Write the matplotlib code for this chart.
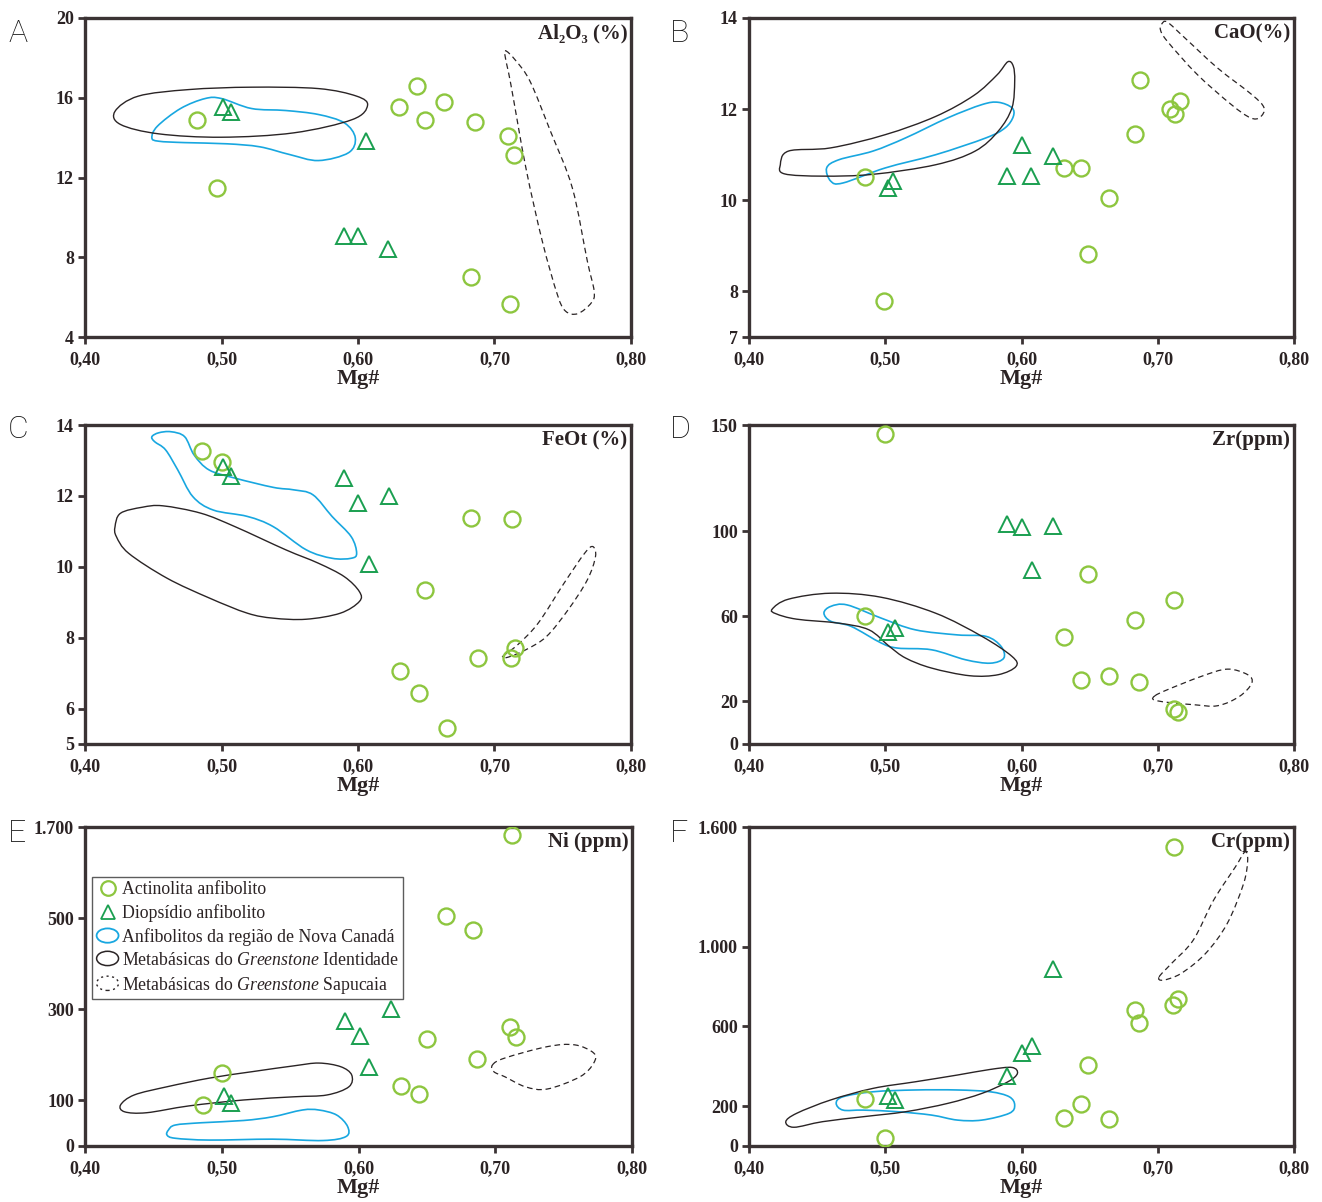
import numpy as np
import matplotlib
matplotlib.use('Agg')
import matplotlib.pyplot as plt
from matplotlib.path import Path
from matplotlib.patches import PathPatch, Patch, Ellipse
from matplotlib.lines import Line2D
from matplotlib.legend_handler import HandlerPatch

plt.rcParams['font.family'] = ['Liberation Serif', 'DejaVu Serif']
plt.rcParams['mathtext.fontset'] = 'custom'
plt.rcParams['mathtext.rm'] = 'Liberation Serif'
plt.rcParams['mathtext.it'] = 'Liberation Serif:italic'
plt.rcParams['mathtext.bf'] = 'Liberation Serif:bold'

# A - Al2O3 (%)
a_act_mg = [0.482, 0.497, 0.630, 0.643, 0.649, 0.663, 0.683, 0.686, 0.710, 0.711, 0.714]
a_act = [14.87, 11.48, 15.56, 16.59, 14.86, 15.79, 7.03, 14.76, 14.07, 5.67, 13.14]
a_dio_mg = [0.501, 0.507, 0.606, 0.590, 0.600, 0.622]
a_dio = [15.52, 15.27, 13.85, 9.06, 9.06, 8.39]
a_nova = [(0.449, 13.99), (0.453, 14.57), (0.470, 15.46), (0.488, 15.96), (0.500, 15.96), (0.522, 15.46),
          (0.547, 15.36), (0.571, 15.16), (0.590, 14.74), (0.598, 13.99), (0.593, 13.24), (0.571, 12.85),
          (0.550, 13.15), (0.528, 13.54), (0.504, 13.69), (0.473, 13.75), (0.454, 13.82)]
a_ident = [(0.422, 15.32), (0.439, 16.08), (0.476, 16.41), (0.522, 16.53), (0.571, 16.46), (0.599, 16.08),
           (0.607, 15.62), (0.596, 14.91), (0.553, 14.24), (0.500, 14.02), (0.454, 14.19), (0.426, 14.66)]
a_sapu = [(0.708, 18.36), (0.715, 17.91), (0.726, 16.83), (0.741, 14.32), (0.757, 11.48), (0.768, 7.81),
          (0.773, 6.30), (0.771, 5.72), (0.761, 5.17), (0.752, 5.30), (0.746, 6.14), (0.735, 8.81),
          (0.723, 12.48), (0.712, 16.66), (0.708, 18.00)]

# B - CaO (%)
b_act_mg = [0.485, 0.499, 0.631, 0.644, 0.649, 0.664, 0.683, 0.687, 0.709, 0.713, 0.716]
b_act = [10.51, 7.80, 10.71, 10.70, 8.83, 10.04, 11.46, 12.65, 12.00, 11.90, 12.17]
b_dio_mg = [0.600, 0.623, 0.589, 0.607, 0.506, 0.502]
b_dio = [11.22, 10.98, 10.53, 10.53, 10.43, 10.27]
b_nova = [(0.457, 10.71), (0.466, 10.89), (0.491, 11.08), (0.515, 11.37), (0.546, 11.81), (0.571, 12.10),
          (0.583, 12.15), (0.593, 12.03), (0.594, 11.84), (0.588, 11.59), (0.574, 11.37), (0.537, 11.00),
          (0.500, 10.71), (0.469, 10.38), (0.460, 10.42)]
b_ident = [(0.423, 10.78), (0.429, 11.08), (0.460, 11.15), (0.500, 11.44), (0.537, 11.84), (0.565, 12.30),
           (0.582, 12.75), (0.590, 13.04), (0.594, 12.94), (0.595, 12.61), (0.593, 12.03), (0.583, 11.52),
           (0.566, 11.08), (0.537, 10.78), (0.491, 10.57), (0.454, 10.53), (0.426, 10.58)]
b_sapu = [(0.703, 13.87), (0.707, 13.91), (0.720, 13.56), (0.744, 12.90), (0.769, 12.32), (0.778, 12.03),
          (0.775, 11.82), (0.768, 11.81), (0.754, 12.10), (0.729, 12.76), (0.707, 13.49), (0.702, 13.74)]

# C - FeOt (%)
c_act_mg = [0.486, 0.500, 0.631, 0.645, 0.649, 0.665, 0.683, 0.688, 0.712, 0.713, 0.715]
c_act = [13.28, 12.97, 7.05, 6.44, 9.35, 5.45, 11.37, 7.42, 7.42, 11.35, 7.71]
c_dio_mg = [0.501, 0.507, 0.590, 0.600, 0.623, 0.608]
c_dio = [12.81, 12.57, 12.50, 11.81, 12.00, 10.08]
c_nova = [(0.449, 13.67), (0.454, 13.78), (0.463, 13.81), (0.473, 13.67), (0.480, 13.15), (0.491, 12.73),
          (0.510, 12.50), (0.538, 12.24), (0.553, 12.17), (0.567, 12.03), (0.581, 11.42), (0.595, 10.85),
          (0.599, 10.38), (0.595, 10.24), (0.581, 10.24), (0.562, 10.48), (0.538, 11.13), (0.519, 11.42),
          (0.494, 11.60), (0.479, 11.98), (0.468, 12.73), (0.459, 13.30), (0.451, 13.53)]
c_ident = [(0.422, 11.13), (0.426, 11.51), (0.442, 11.68), (0.457, 11.72), (0.485, 11.51), (0.510, 11.13),
           (0.547, 10.48), (0.571, 10.10), (0.590, 9.72), (0.601, 9.30), (0.601, 9.02), (0.587, 8.69),
           (0.562, 8.52), (0.538, 8.55), (0.519, 8.69), (0.491, 9.12), (0.460, 9.68), (0.432, 10.38),
           (0.423, 10.85)]
c_sapu = [(0.706, 7.47), (0.717, 7.80), (0.732, 8.41), (0.751, 9.54), (0.766, 10.38), (0.772, 10.57),
          (0.774, 10.29), (0.768, 9.63), (0.754, 8.79), (0.738, 8.03), (0.723, 7.66), (0.710, 7.45)]

# D - Zr (ppm)
d_act_mg = [0.500, 0.485, 0.631, 0.649, 0.644, 0.664, 0.683, 0.686, 0.712, 0.712, 0.715]
d_act = [145.8, 60.3, 50.3, 79.9, 30.2, 31.8, 58.4, 29.3, 67.5, 16.4, 14.9]
d_dio_mg = [0.589, 0.600, 0.623, 0.608, 0.507, 0.502]
d_dio = [103.5, 102.2, 102.6, 81.9, 54.5, 52.5]
d_nova = [(0.455, 61.6), (0.460, 64.7), (0.472, 65.4), (0.497, 59.2), (0.522, 53.7), (0.553, 51.3),
          (0.574, 50.6), (0.585, 45.9), (0.587, 40.4), (0.577, 38.0), (0.559, 39.6), (0.534, 44.3),
          (0.509, 45.1), (0.497, 47.5), (0.475, 55.3), (0.460, 57.7)]
d_ident = [(0.417, 63.4), (0.429, 68.1), (0.460, 70.9), (0.497, 69.0), (0.537, 61.5), (0.571, 50.6),
           (0.593, 41.2), (0.596, 36.5), (0.583, 32.6), (0.562, 32.1), (0.534, 35.7), (0.515, 40.4),
           (0.503, 45.9), (0.488, 53.7), (0.466, 56.8), (0.435, 58.7), (0.420, 61.2)]
d_sapu = [(0.698, 22.7), (0.707, 25.5), (0.732, 31.8), (0.751, 35.2), (0.766, 32.6), (0.769, 28.6),
          (0.760, 22.4), (0.744, 18.0), (0.726, 18.5), (0.707, 19.6), (0.697, 20.8)]

# E - Ni (ppm)
e_act_mg = [0.712, 0.664, 0.684, 0.711, 0.715, 0.650, 0.687, 0.500, 0.631, 0.644, 0.486]
e_act = [1594, 523, 473, 261, 239, 234, 190, 161, 132, 114, 90]
e_dio_mg = [0.624, 0.590, 0.601, 0.608, 0.502, 0.507]
e_dio = [300, 275, 242, 173, 110, 94]
e_nova = [(0.461, 35), (0.466, 46), (0.485, 51), (0.516, 56), (0.537, 64), (0.559, 79), (0.571, 79),
          (0.584, 68), (0.592, 43), (0.591, 21), (0.574, 12), (0.537, 15), (0.491, 13), (0.466, 17),
          (0.460, 24)]
e_ident = [(0.426, 90), (0.436, 112), (0.460, 130), (0.491, 149), (0.522, 163), (0.553, 176), (0.571, 182),
           (0.587, 174), (0.595, 156), (0.593, 130), (0.577, 112), (0.553, 108), (0.516, 101), (0.476, 88),
           (0.445, 73), (0.429, 75)]
e_sapu = [(0.698, 178), (0.707, 193), (0.738, 218), (0.758, 222), (0.772, 204), (0.772, 182), (0.762, 152),
          (0.738, 125), (0.722, 130), (0.707, 152), (0.699, 163)]

# F - Cr (ppm)
f_act_mg = [0.712, 0.715, 0.711, 0.683, 0.686, 0.649, 0.644, 0.631, 0.664, 0.485, 0.500]
f_act = [1500, 735, 706, 681, 618, 404, 209, 139, 135, 237, 42]
f_dio_mg = [0.623, 0.608, 0.600, 0.589, 0.502, 0.507]
f_dio = [890, 501, 464, 351, 251, 231]
f_nova = [(0.464, 214), (0.469, 247), (0.491, 272), (0.522, 281), (0.553, 281), (0.577, 272), (0.591, 247),
          (0.595, 205), (0.591, 164), (0.571, 130), (0.553, 130), (0.534, 155), (0.509, 172), (0.484, 180),
          (0.469, 180)]
f_ident = [(0.427, 122), (0.435, 164), (0.460, 231), (0.491, 289), (0.522, 322), (0.553, 356), (0.577, 384),
           (0.593, 394), (0.597, 364), (0.590, 322), (0.571, 264), (0.546, 214), (0.515, 172), (0.484, 147),
           (0.454, 122), (0.433, 94)]
f_sapu = [(0.701, 848), (0.710, 915), (0.726, 1032), (0.741, 1233), (0.757, 1400), (0.764, 1475),
          (0.766, 1433), (0.763, 1316), (0.751, 1116), (0.735, 965), (0.717, 865), (0.704, 832)]

mg_ticks = [0.40, 0.50, 0.60, 0.70, 0.80]
a_ticks = [4, 8, 12, 16, 20]
b_ticks = [7, 8, 10, 12, 14]
c_ticks = [5, 6, 8, 10, 12, 14]
d_ticks = [0, 20, 60, 100, 150]
e_ticks = [0, 100, 300, 500, 1700]
f_ticks = [0, 200, 600, 1000, 1600]

ACT = '#8dc63f'
DIO = '#1a9f50'
NOVA = '#18a7e0'
IDENT = '#2a2425'
FRAME = '#3b3334'
TXT = '#2b2324'


def blob(ax, pts, color, ls, lw):
    # closed smooth outline through the read points (catmull-rom -> cubic bezier)
    p = np.array(pts, dtype=float)
    n = len(p)
    verts = [p[0]]
    codes = [Path.MOVETO]
    for i in range(n):
        p0, p1, p2, p3 = p[i - 1], p[i], p[(i + 1) % n], p[(i + 2) % n]
        verts += [p1 + (p2 - p0) / 6, p2 - (p3 - p1) / 6, p2]
        codes += [Path.CURVE4] * 3
    verts.append(p[0])
    codes.append(Path.CLOSEPOLY)
    ax.add_patch(PathPatch(Path(verts, codes), fill=False, edgecolor=color, linestyle=ls, linewidth=lw,
                           zorder=2))


def panel(ax, act_mg, act, dio_mg, dio, nova, ident, sapu, yticks, title):
    blob(ax, nova, NOVA, '-', 1.2)
    blob(ax, ident, IDENT, '-', 1.0)
    blob(ax, sapu, IDENT, (0, (4.5, 3)), 0.9)
    ax.plot(act_mg, act, 'o', ms=11.5, mfc='none', mec=ACT, mew=1.7, ls='none', zorder=3)
    ax.plot(dio_mg, dio, '^', ms=11, mfc='none', mec=DIO, mew=1.4, ls='none', zorder=3)
    ax.set_xlim(0.40, 0.80)
    ax.set_ylim(yticks[0], yticks[-1])
    ax.set_xticks(mg_ticks, [('%.2f' % v).replace('.', ',') for v in mg_ticks], fontweight='bold')
    ylab = [('{:,}'.format(v)).replace(',', '.') for v in yticks]
    ax.set_yticks(yticks, ylab, fontweight='bold')
    ax.tick_params(direction='out', length=5, width=2, color=FRAME, labelsize=13, labelcolor=TXT)
    ax.tick_params(axis='x', pad=5)
    ax.tick_params(axis='y', pad=3)
    for s in ax.spines.values():
        s.set_linewidth(2.4)
        s.set_color(FRAME)
    ax.set_xlabel('Mg#', fontsize=16, fontweight='bold', labelpad=1, color=TXT)
    ax.text(0.993, 0.952, title, transform=ax.transAxes, ha='right', va='center', fontsize=15,
            fontweight='bold', color=TXT)


fig = plt.figure(figsize=(13.22, 12.02), dpi=100)
W, H = 1322.0, 1202.0


def box(l, t, r, b):
    return [l / W, 1 - b / H, (r - l) / W, (b - t) / H]


axA = fig.add_axes(box(85, 18, 631, 337))
axB = fig.add_axes(box(749, 18, 1294, 337))
axC = fig.add_axes(box(85, 425, 631, 744))
axD = fig.add_axes(box(749, 425, 1294, 744))
axE = fig.add_axes(box(85, 827, 632, 1146))
axF = fig.add_axes(box(749, 827, 1294, 1146))

# Ni axis is compressed above 500
axE.set_yscale('function', functions=(lambda v: np.interp(v, [0, 500, 1700], [0, 500, 700]),
                                      lambda v: np.interp(v, [0, 500, 700], [0, 500, 1700])))

panel(axA, a_act_mg, a_act, a_dio_mg, a_dio, a_nova, a_ident, a_sapu, a_ticks, 'Al\u2082O\u2083 (%)')
panel(axB, b_act_mg, b_act, b_dio_mg, b_dio, b_nova, b_ident, b_sapu, b_ticks, 'CaO(%)')
panel(axC, c_act_mg, c_act, c_dio_mg, c_dio, c_nova, c_ident, c_sapu, c_ticks, 'FeOt (%)')
panel(axD, d_act_mg, d_act, d_dio_mg, d_dio, d_nova, d_ident, d_sapu, d_ticks, 'Zr(ppm)')
panel(axE, e_act_mg, e_act, e_dio_mg, e_dio, e_nova, e_ident, e_sapu, e_ticks, 'Ni (ppm)')
panel(axF, f_act_mg, f_act, f_dio_mg, f_dio, f_nova, f_ident, f_sapu, f_ticks, 'Cr(ppm)')


def blob_handle(legend, orig_handle, xdescent, ydescent, width, height, fontsize):
    return Ellipse((width / 2 - xdescent, height / 2 - ydescent), width * 0.95, height * 1.15)


handles = [
    Line2D([], [], marker='o', ms=10.5, mfc='none', mec=ACT, mew=1.6, ls='none'),
    Line2D([], [], marker='^', ms=10.5, mfc='none', mec=DIO, mew=1.3, ls='none'),
    Patch(facecolor='none', edgecolor=NOVA, linewidth=1.3),
    Patch(facecolor='none', edgecolor=IDENT, linewidth=1.1),
    Patch(facecolor='none', edgecolor=IDENT, linewidth=1.0, linestyle=(0, (1.5, 2.5))),
]
labels = [
    'Actinolita anfibolito',
    'Diopsídio anfibolito',
    'Anfibolitos da região de Nova Canadá',
    'Metabásicas do $\\mathit{Greenstone}$ Identidade',
    'Metabásicas do $\\mathit{Greenstone}$ Sapucaia',
]
hm = {h: HandlerPatch(patch_func=blob_handle) for h in handles[2:]}
leg = axE.legend(handles, labels, handler_map=hm, loc='upper left', bbox_to_anchor=(0.013, 0.842),
                 borderaxespad=0, fontsize=12.8, frameon=True, fancybox=False, handlelength=1.3,
                 handletextpad=0.15, labelspacing=0.33, borderpad=0.22)
leg.get_frame().set_edgecolor('#333333')
leg.get_frame().set_linewidth(1.0)
for t in leg.get_texts():
    t.set_color(TXT)

for letter, x, y in [('A', 18, 33), ('B', 680, 33), ('C', 18, 430), ('D', 680, 430),
                     ('E', 17, 833), ('F', 679, 833)]:
    fig.text(x / W, 1 - y / H, letter, ha='center', va='center', fontsize=23,
             family=['Roboto', 'DejaVu Sans'], fontweight='light', color='#111111')

fig.savefig('out.png', dpi=100)
